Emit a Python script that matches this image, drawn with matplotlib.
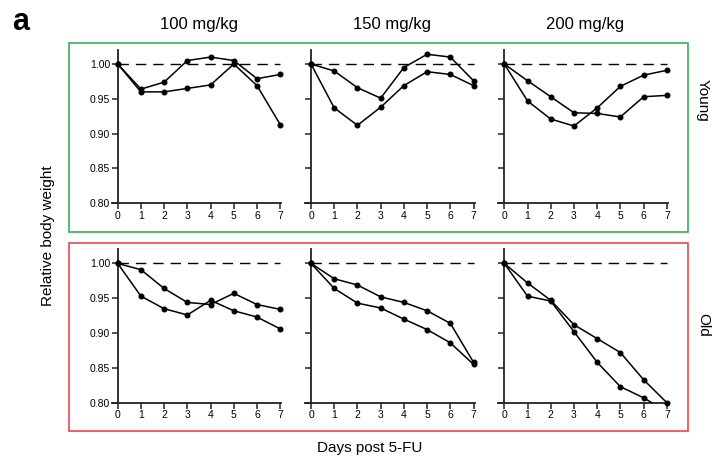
import matplotlib
matplotlib.use("Agg")
import matplotlib.pyplot as plt
from matplotlib.patches import Rectangle

plt.rcParams['font.family'] = ['Liberation Sans', 'DejaVu Sans']

days = [0, 1, 2, 3, 4, 5, 6, 7]
doses = ["100 mg/kg", "150 mg/kg", "200 mg/kg"]
groups = ["Young", "Old"]

young_100_a = [1.00, 0.964, 0.974, 1.005, 1.010, 1.005, 0.979, 0.985]
young_100_b = [1.00, 0.960, 0.960, 0.965, 0.970, 1.000, 0.969, 0.913]
young_150_a = [1.00, 0.990, 0.966, 0.951, 0.995, 1.014, 1.010, 0.976]
young_150_b = [1.00, 0.937, 0.912, 0.938, 0.969, 0.989, 0.985, 0.969]
young_200_a = [1.00, 0.976, 0.953, 0.930, 0.929, 0.924, 0.953, 0.955]
young_200_b = [1.00, 0.947, 0.921, 0.911, 0.937, 0.968, 0.984, 0.991]
old_100_a = [1.00, 0.991, 0.964, 0.944, 0.941, 0.957, 0.941, 0.934]
old_100_b = [1.00, 0.953, 0.935, 0.926, 0.947, 0.932, 0.923, 0.906]
old_150_a = [1.00, 0.978, 0.969, 0.952, 0.944, 0.932, 0.914, 0.858]
old_150_b = [1.00, 0.964, 0.943, 0.936, 0.920, 0.905, 0.886, 0.855]
old_200_a = [1.00, 0.972, 0.947, 0.912, 0.892, 0.872, 0.833, 0.800]
old_200_b = [1.00, 0.953, 0.946, 0.902, 0.858, 0.823, 0.807, 0.787]

data = [
    [(young_100_a, young_100_b), (young_150_a, young_150_b), (young_200_a, young_200_b)],
    [(old_100_a, old_100_b), (old_150_a, old_150_b), (old_200_a, old_200_b)],
]

yticks = [0.80, 0.85, 0.90, 0.95, 1.00]
ylo, yhi = 0.80, 1.02

W, H = 717, 463
fig = plt.figure(figsize=(W / 100, H / 100), dpi=100)

lefts_px = [111.9, 305.2, 498.5]
width_px = 169.5
bottoms_px = [203.3, 402.7]   # bottom edge (pixel y from top)
height_px = 153.2
box_colors = ["#3aaa5e", "#e8474f"]
box_px = [(69.3, 43.3, 688.3, 231.7), (69.3, 242.7, 688.3, 431.0)]

for r in range(2):
    for c in range(3):
        ax = fig.add_axes([lefts_px[c] / W, 1 - bottoms_px[r] / H,
                           width_px / W, height_px / H])
        ax.set_xlim(-0.25, 7.05)
        ax.set_ylim(ylo, yhi)
        for s in ("top", "right"):
            ax.spines[s].set_visible(False)
        ax.spines["left"].set_position(("data", 0))
        ax.spines["left"].set_bounds(ylo, yhi)
        for s in ("left", "bottom"):
            ax.spines[s].set_linewidth(1.3)
            ax.spines[s].set_color("#222222")
        ax.set_xticks(days)
        ax.set_yticks(yticks)
        ax.tick_params(axis="both", length=4, width=1.1, color="#222222",
                       labelsize=7.5, pad=1.5, direction="out")
        if c == 0:
            ax.set_yticklabels([f"{v:.2f}" for v in yticks])
        else:
            ax.set_yticklabels([])
        ax.plot([0, 7], [1.0, 1.0], ls=(0, (7.5, 5)), color="black", lw=1.0)
        for series in data[r][c]:
            inside = min(series) >= ylo
            ax.plot(days, series, color="black", lw=1.1, marker="o",
                    markersize=3.3, clip_on=not inside, zorder=3)
        ax.patch.set_visible(False)
        if r == 0:
            fig.text((lefts_px[c] + 5.8 + 81) / W, 1 - 25 / H, doses[c],
                     ha="center", va="center", fontsize=12)

for (x0, y0, x1, y1), col in zip(box_px, box_colors):
    fig.patches.append(Rectangle((x0 / W, 1 - y1 / H), (x1 - x0) / W, (y1 - y0) / H,
                                 transform=fig.transFigure, fill=False,
                                 edgecolor=col, lw=1.2))

fig.text(21 / W, 1 - 22 / H, "a", fontsize=22, fontweight="bold",
         ha="center", va="center")
fig.text(48 / W, 1 - 236 / H, "Relative body weight", rotation=90,
         ha="center", va="center", fontsize=11)
fig.text(370 / W, 1 - 448 / H, "Days post 5-FU", ha="center", va="center",
         fontsize=11)
fig.text(703 / W, 1 - 100 / H, groups[0], rotation=270, ha="center",
         va="center", fontsize=11)
fig.text(703 / W, 1 - 325 / H, groups[1], rotation=270, ha="center",
         va="center", fontsize=11)

fig.savefig("out.png", dpi=100)
